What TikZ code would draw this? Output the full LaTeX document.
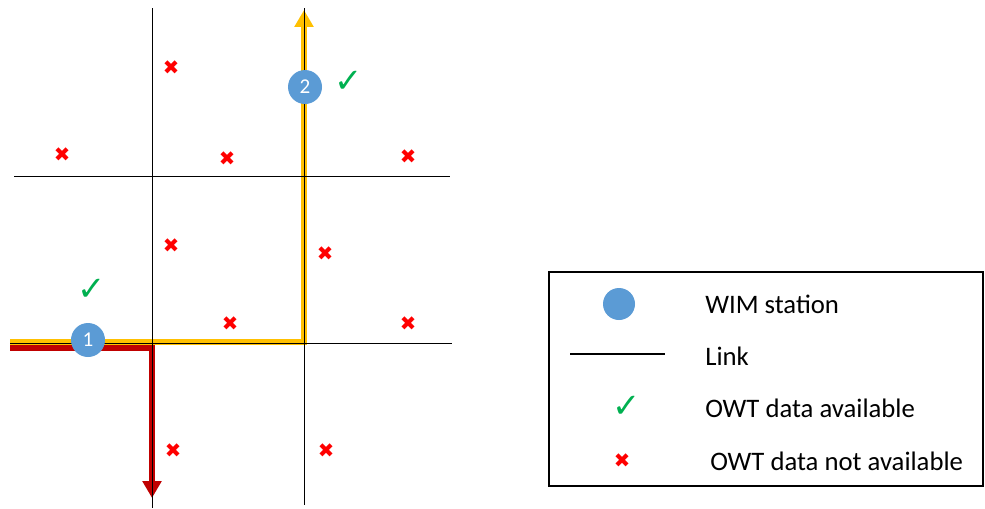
\documentclass[tikz,border=0pt]{standalone}
\usepackage{fontspec}
\setmainfont{Carlito}
\newfontfamily\symfont{DejaVu Sans}
\usetikzlibrary{arrows.meta, positioning}
\definecolor{wimblue}{RGB}{91,155,213}
\definecolor{routeyel}{RGB}{255,192,0}
\definecolor{routered}{RGB}{192,0,0}
\definecolor{okgreen}{RGB}{0,176,80}
\definecolor{nored}{RGB}{255,0,0}

\begin{document}
\begin{tikzpicture}[x=0.025cm, y=-0.025cm,
    road/.style={black, line width=0.7pt},
    route/.style={line width=4.8pt, -{Triangle[width=13pt, length=12pt]}},
    station/.style={circle, fill=wimblue, minimum size=0.85cm, inner sep=0pt,
      text=white, font=\fontsize{15}{15}\selectfont},
    okmark/.style={text=okgreen, font=\symfont\fontsize{24}{24}\selectfont, inner sep=0pt},
    nomark/.style={text=nored, font=\symfont\bfseries\fontsize{14}{14}\selectfont, inner sep=0pt},
    lbl/.style={anchor=west, font=\fontsize{19}{19}\selectfont, inner sep=0pt}]
  \useasboundingbox (0,0) rectangle (985,508);
  % road ends
  \coordinate (v1t) at (152,8);   \coordinate (v1b) at (152,508);
  \coordinate (v2t) at (304,8);   \coordinate (v2b) at (304,505);
  \coordinate (h1l) at (14,176);  \coordinate (h1r) at (450,176);
  \coordinate (h2l) at (10,343);  \coordinate (h2r) at (452,343);
  % routes
  \coordinate (yst) at (10,342);  \coordinate (ycn) at (304,342);
  \coordinate (yen) at (304,10);
  \coordinate (rst) at (10,348);  \coordinate (rcn) at (152,348);
  \coordinate (ren) at (152,498);
  \draw[route, routeyel] (yst) -- (ycn) -- (yen);
  \draw[route, routered] (rst) -- (rcn) -- (ren);
  % roads
  \draw[road] (v1t) -- (v1b);
  \draw[road] (v2t) -- (v2b);
  \draw[road] (h1l) -- (h1r);
  \draw[road] (h2l) -- (h2r);
  % stations
  \node[station] (s1) at (88,340) {1};
  \node[station] (s2) at (305,87) {2};
  \node[okmark] (ok1) at (92,290) {✓};
  \node[okmark] (ok2) at (349,82) {✓};
  % no data
  \foreach \x/\y [count=\i] in {171/68, 62/155, 227/159, 408/157, 171/246,
      325/254, 230/324, 408/324, 173/451, 326/451}
    \node[nomark] (no\i) at (\x,\y) {✖};
  % legend
  \node[draw, line width=1.2pt, minimum width=434*0.025cm, minimum height=214*0.025cm,
    inner sep=0pt] (legend) at (766,379) {};
  \node[circle, fill=wimblue, minimum size=0.8cm, inner sep=0pt] (lgwim) at (619,304) {};
  \coordinate (lglinea) at (570,354);
  \coordinate (lglineb) at (665,354);
  \draw[line width=2pt] (lglinea) -- (lglineb);
  \node[okmark] (lgok) at (627,407) {✓};
  \node[nomark] (lgno) at (622,461) {✖};
  \node[lbl] (twim) at (705,304) {WIM station};
  \node[lbl] (tlink) at (705,356) {Link};
  \node[lbl] (tok) at (705,408) {OWT data available};
  \node[lbl] (tno) at (710,461) {OWT data not available};
\end{tikzpicture}
\end{document}
